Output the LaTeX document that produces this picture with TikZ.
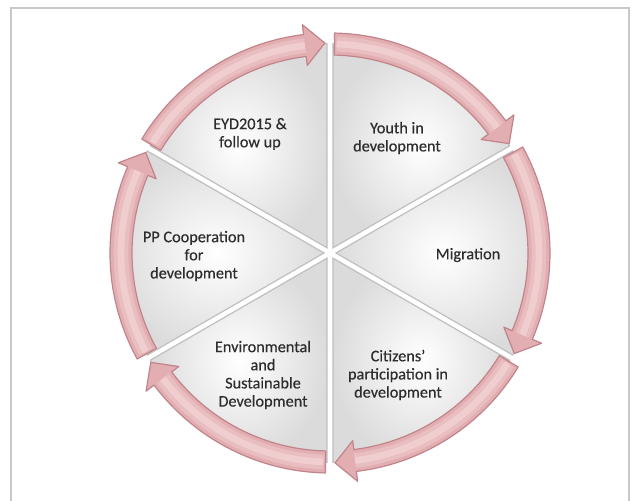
\documentclass[tikz,border=0pt]{standalone}
\usepackage{fontspec}
\setmainfont{Carlito}
\newfontfamily\lblfont[FakeBold=0.35,Ligatures=TeX]{Carlito}
\definecolor{arrfill}{RGB}{226,174,178}
\definecolor{arrmid}{RGB}{233,190,193}
\definecolor{arrlight}{RGB}{240,206,208}
\definecolor{arredge}{RGB}{192,132,138}
\definecolor{framec}{RGB}{200,200,200}
\definecolor{textc}{RGB}{45,45,45}
\begin{document}
\begin{tikzpicture}[x=0.75pt,y=0.75pt,
  lbl/.style={align=center,font=\lblfont\fontsize{12.2}{13.6}\selectfont,text=textc,inner sep=0pt},
  wedgebox/.style={draw=gray!50,line width=0.9,inner color=white,outer color=gray!28},
  arrowbody/.style={fill=arrfill,draw=arredge,line width=0.9,line join=round}]
\useasboundingbox (-330,-248) rectangle (307,253);
\draw[framec,line width=2] (-319,-248) -- (-319,245) -- (299,245) -- (299,-248);

\foreach \b in {90,30,-30,-90,-150,150}{
  \pgfmathsetmacro\e{\b-60}
  \pgfmathsetmacro\m{\b-30}
  \begin{scope}[shift={(\m:6)}]
    \path[wedgebox] (0,0) -- (\b:204) arc[start angle=\b,end angle=\e,radius=204] -- cycle;
  \end{scope}
}

\foreach \b in {90,30,-30,-90,-150,150}{
  \pgfmathsetmacro\t{\b-1.2}
  \pgfmathsetmacro\p{\b-60+1.4}
  \pgfmathsetmacro\h{\p+5.5}
  \pgfmathsetmacro\ti{\t-0.6}
  \path[arrowbody] (\t:198) -- (\t:220) arc[start angle=\t,end angle=\h,radius=220]
     -- (\h:230) -- (\p:210) -- (\h:189) -- (\h:198)
     arc[start angle=\h,end angle=\t,radius=198] -- cycle;
  \draw[arrmid,line width=11] (\ti:209) arc[start angle=\ti,end angle=\h,radius=209];
  \draw[arrlight,line width=5] (\ti:209) arc[start angle=\ti,end angle=\h,radius=209];
}

\node[lbl] (eyd) at (-80,119) {EYD2015 \&\\follow up};
\node[lbl] (youth) at (67,115) {Youth in\\development};
\node[lbl] (mig) at (138,-2) {Migration};
\node[lbl] (cit) at (68,-122) {Citizens’\\participation in\\development};
\node[lbl] (env) at (-67,-122) {Environmental\\and\\Sustainable\\Development};
\node[lbl] (pp) at (-136,-3) {PP Cooperation\\for\\development};
\end{tikzpicture}
\end{document}
